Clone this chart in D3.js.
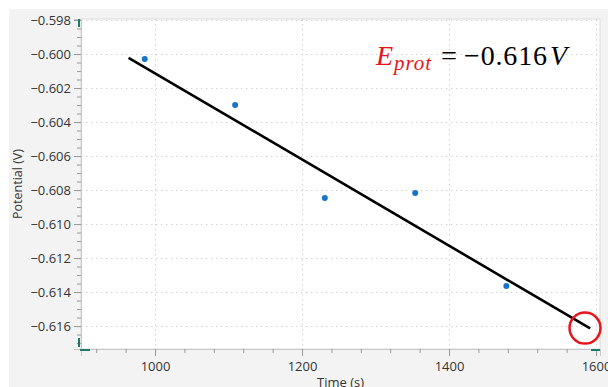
<!DOCTYPE html>
<html><head><meta charset="utf-8">
<script src="https://cdn.jsdelivr.net/npm/d3@7"></script>
<style>body{margin:0;background:#fff}svg{display:block}</style>
</head><body>
<svg id="c" width="608" height="387"></svg>
<script>
const times = [986, 1109, 1231, 1354, 1478];
const potentials = [-0.60029, -0.60300, -0.60847, -0.60818, -0.61365];
const fitTimes = [964, 1592];
const fitPotentials = [-0.60022, -0.61614];
const markTime = 1585, markPotential = -0.61612;
const xTicks = [1000, 1200, 1400, 1600];
const yTicks = [-0.598, -0.600, -0.602, -0.604, -0.606, -0.608, -0.610, -0.612, -0.614, -0.616];

const svg = d3.select("#c");
const L = 81, R = 600, T = 19, B = 349;
const x = d3.scaleLinear().domain([899.3, 1605.4]).range([L, R]);
const y = d3.scaleLinear().domain([-0.61735, -0.59794]).range([B, T]);

svg.append("rect").attr("x", 9).attr("y", 9).attr("width", 600).attr("height", 380).attr("fill", "#f3f3f3");
svg.append("rect").attr("x", L).attr("y", T).attr("width", R - L).attr("height", B - T).attr("fill", "#fff")
  .attr("stroke", "#dcdcdc").attr("stroke-width", 1);

// grid
const g = svg.append("g").attr("stroke", "#d4d4d4").attr("stroke-dasharray", "1.5,3.5").attr("stroke-width", 1);
xTicks.forEach(v => g.append("line").attr("x1", Math.round(x(v)) + 0.5).attr("x2", Math.round(x(v)) + 0.5).attr("y1", T).attr("y2", B));
yTicks.forEach(v => g.append("line").attr("y1", Math.round(y(v)) + 0.5).attr("y2", Math.round(y(v)) + 0.5).attr("x1", L).attr("x2", R));

// axes
const minorX = d3.range(920, 1601, 40);
svg.append("g").attr("transform", `translate(0,${B})`)
  .call(d3.axisBottom(x).tickValues(xTicks).tickFormat(d3.format("d")).tickSize(7).tickPadding(6));
svg.append("g").attr("transform", `translate(0,${B})`)
  .call(d3.axisBottom(x).tickValues(minorX.filter(v => !xTicks.includes(v))).tickFormat("").tickSize(4))
  .call(a => a.select(".domain").remove());
const minorY = d3.range(-0.617, -0.5979, 0.0005);
svg.append("g").attr("transform", `translate(${L},0)`)
  .call(d3.axisLeft(y).tickValues(yTicks).tickFormat(d3.format(".3f")).tickSize(7).tickPadding(3));
svg.append("g").attr("transform", `translate(${L},0)`)
  .call(d3.axisLeft(y).tickValues(minorY).tickFormat("").tickSize(4))
  .call(a => a.select(".domain").remove());
svg.selectAll(".domain").attr("stroke", "#c8c8c8");
svg.selectAll(".tick line").attr("stroke", "#999");
svg.selectAll(".tick text").attr("font-family", "Open Sans").attr("font-size", 13).attr("fill", "#333");

// teal handles
const teal = "#1b7a6c";
svg.append("line").attr("x1", 79).attr("x2", 79).attr("y1", 19).attr("y2", 27).attr("stroke", teal).attr("stroke-width", 2);
svg.append("line").attr("x1", 79).attr("x2", 79).attr("y1", 338).attr("y2", 347).attr("stroke", teal).attr("stroke-width", 2);
svg.append("line").attr("x1", 80).attr("x2", 90).attr("y1", 350).attr("y2", 350).attr("stroke", teal).attr("stroke-width", 2);
svg.append("line").attr("x1", 591).attr("x2", 600).attr("y1", 350).attr("y2", 350).attr("stroke", teal).attr("stroke-width", 2);

// axis titles
svg.append("text").attr("transform", `translate(22,${(T + B) / 2}) rotate(-90)`).attr("text-anchor", "middle")
  .attr("font-family", "Open Sans").attr("font-size", 12.5).attr("fill", "#333").text("Potential (V)");
svg.append("text").attr("x", (L + R) / 2).attr("y", 387).attr("text-anchor", "middle")
  .attr("font-family", "Open Sans").attr("font-size", 13).attr("fill", "#333").text("Time (s)");

// fit line
svg.append("path").datum(fitTimes.map((t, i) => [t, fitPotentials[i]]))
  .attr("d", d3.line().x(d => x(d[0])).y(d => y(d[1])))
  .attr("stroke", "#000").attr("stroke-width", 2.6).attr("fill", "none");

// points
svg.append("g").selectAll("circle").data(times.map((t, i) => [t, potentials[i]])).join("circle")
  .attr("cx", d => x(d[0])).attr("cy", d => y(d[1])).attr("r", 3).attr("fill", "#1874c8");

// red circle
svg.append("circle").attr("cx", x(markTime)).attr("cy", y(markPotential)).attr("r", 15.5)
  .attr("fill", "none").attr("stroke", "#e8141b").attr("stroke-width", 2.5);

// annotation
const ann = svg.append("text").attr("y", 65).attr("font-family", "Liberation Serif").attr("font-size", 28);
ann.append("tspan").attr("x", 376).attr("fill", "#e8141b").attr("font-style", "italic").text("E");
ann.append("tspan").attr("x", 394).attr("y", 70).attr("fill", "#e8141b").attr("font-style", "italic").attr("font-size", 21)
  .attr("textLength", 37).text("prot");
ann.append("tspan").attr("x", 441).attr("y", 65).attr("fill", "#000").attr("textLength", 16).attr("lengthAdjust", "spacingAndGlyphs").text("=");
ann.append("tspan").attr("x", 464).attr("fill", "#000").attr("textLength", 83).text("−0.616");
ann.append("tspan").attr("x", 550).attr("fill", "#000").attr("font-style", "italic").text("V");
</script>
</body></html>
